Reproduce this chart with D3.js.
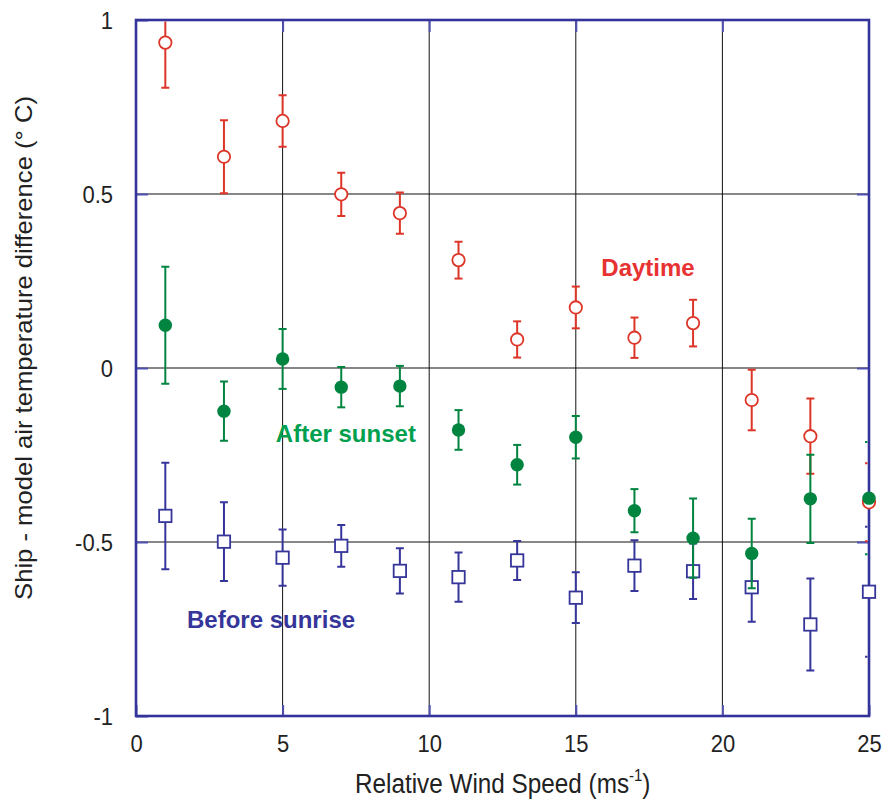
<!DOCTYPE html>
<html>
<head>
<meta charset="utf-8">
<script src="https://cdn.jsdelivr.net/npm/d3@7/dist/d3.min.js"></script>
<style>
  html, body { margin: 0; padding: 0; background: #fff; }
  svg { display: block; font-family: "Liberation Sans", Arial, Helvetica, sans-serif; }
</style>
</head>
<body>
<svg id="chart" width="884" height="806"></svg>
<script>
// Relative wind speed bins (m/s)
const windSpeed = [1, 3, 5, 7, 9, 11, 13, 15, 17, 19, 21, 23, 25];

// Ship minus model air temperature difference (deg C) and error bars
const daytime        = [0.935, 0.607, 0.710, 0.499, 0.445, 0.310, 0.082, 0.174, 0.087, 0.129, -0.092, -0.196, -0.386];
const daytimeErr     = [0.130, 0.105, 0.074, 0.062, 0.059, 0.053, 0.052, 0.060, 0.058, 0.067, 0.087, 0.108, 0.112];
const afterSunset    = [0.123, -0.124, 0.026, -0.055, -0.052, -0.178, -0.278, -0.199, -0.410, -0.489, -0.533, -0.376, -0.374];
const afterSunsetErr = [0.168, 0.085, 0.086, 0.058, 0.058, 0.057, 0.057, 0.061, 0.062, 0.114, 0.100, 0.127, 0.161];
const beforeSunrise    = [-0.425, -0.499, -0.545, -0.511, -0.583, -0.601, -0.553, -0.660, -0.568, -0.584, -0.630, -0.737, -0.643];
const beforeSunriseErr = [0.153, 0.113, 0.081, 0.060, 0.065, 0.071, 0.056, 0.073, 0.073, 0.080, 0.099, 0.132, 0.187];

// Axis ticks
const xTicks = [0, 5, 10, 15, 20, 25];
const yTicks = [1, 0.5, 0, -0.5, -1];
const yTickLabels = ["1", "0.5", "0", "-0.5", "-1"];

// Series labels, placed in data coordinates
const seriesNames = ["Before sunrise", "Daytime", "After sunset"];
const labelX = [1.74, 15.87, 4.77];
const labelY = [-0.747, 0.264, -0.212];

const svg = d3.select("#chart");
const plotL = 136, plotR = 869, plotT = 20, plotB = 716;

const x = d3.scaleLinear().domain([0, 25]).range([plotL, plotR]);
const y = d3.scaleLinear().domain([-1, 1]).range([plotB, plotT]);

const frameColor = "#333399";
const tickColor = "#5050b0";

// Grid lines
svg.append("g").selectAll("line").data(xTicks.slice(1, -1)).join("line")
  .attr("x1", d => x(d)).attr("x2", d => x(d))
  .attr("y1", plotT).attr("y2", plotB)
  .attr("stroke", "#111").attr("stroke-width", 1);
svg.append("g").selectAll("line").data(yTicks.slice(1, -1)).join("line")
  .attr("y1", d => y(d)).attr("y2", d => y(d))
  .attr("x1", plotL).attr("x2", plotR)
  .attr("stroke", "#111").attr("stroke-width", 1.2);

// Axes with inward ticks
function styleAxis(g) {
  g.select(".domain").remove();
  g.selectAll(".tick line").attr("stroke", tickColor).attr("stroke-width", 2);
}
const gx = svg.append("g").attr("transform", `translate(0,${plotB})`)
  .call(d3.axisBottom(x).tickValues(xTicks).tickSizeInner(-11).tickSizeOuter(0).tickPadding(0))
  .call(styleAxis);
gx.selectAll(".tick text")
  .attr("y", null).attr("dy", null)
  .attr("transform", "translate(0,36) scale(1,1.1)")
  .attr("font-size", 22).attr("fill", "#222").attr("font-family", null);

svg.append("g").attr("transform", `translate(0,${plotT})`)
  .call(d3.axisTop(x).tickValues(xTicks.slice(1, -1)).tickSizeInner(-12).tickSizeOuter(0).tickFormat(""))
  .call(styleAxis);

const gy = svg.append("g").attr("transform", `translate(${plotL},0)`)
  .call(d3.axisLeft(y).tickValues(yTicks).tickSizeInner(-12).tickSizeOuter(0)
    .tickFormat((d, i) => yTickLabels[i]))
  .call(styleAxis);
gy.selectAll(".tick text")
  .attr("x", null).attr("dy", null)
  .attr("transform", "translate(-23,8) scale(1,1.1)")
  .attr("font-size", 22).attr("fill", "#222").attr("font-family", null);

svg.append("g").attr("transform", `translate(${plotR},0)`)
  .call(d3.axisRight(y).tickValues(yTicks.slice(1, -1)).tickSizeInner(-12).tickSizeOuter(0).tickFormat(""))
  .call(styleAxis);

// Plot frame
svg.append("rect")
  .attr("x", plotL).attr("y", plotT)
  .attr("width", plotR - plotL).attr("height", plotB - plotT)
  .attr("fill", "none").attr("stroke", frameColor).attr("stroke-width", 2.6);

// Error bars are clipped to the plot interior
svg.append("clipPath").attr("id", "plotClip")
  .append("rect").attr("x", plotL + 1.5).attr("y", plotT + 1.5)
  .attr("width", plotR - plotL - 3).attr("height", plotB - plotT - 3);

const series = [
  { name: "Before sunrise", values: beforeSunrise, err: beforeSunriseErr, color: "#35359a", marker: "square" },
  { name: "Daytime",        values: daytime,       err: daytimeErr,       color: "#dd3527", marker: "circleOpen" },
  { name: "After sunset",   values: afterSunset,   err: afterSunsetErr,   color: "#00843f", marker: "circleFilled" }
];

const capHalf = 4;
series.forEach(s => {
  const pts = windSpeed.map((w, i) => ({ w, v: s.values[i], e: s.err[i] }));
  const g = svg.append("g");
  const bars = g.append("g").attr("clip-path", "url(#plotClip)")
    .attr("stroke", s.color).attr("stroke-width", 2).attr("fill", "none");
  bars.selectAll("line.stem").data(pts).join("line").attr("class", "stem")
    .attr("x1", d => x(d.w)).attr("x2", d => x(d.w))
    .attr("y1", d => y(d.v + d.e)).attr("y2", d => y(d.v - d.e));
  bars.selectAll("line.capTop").data(pts).join("line").attr("class", "capTop")
    .attr("x1", d => x(d.w) - capHalf).attr("x2", d => x(d.w) + capHalf)
    .attr("y1", d => y(d.v + d.e)).attr("y2", d => y(d.v + d.e));
  bars.selectAll("line.capBot").data(pts).join("line").attr("class", "capBot")
    .attr("x1", d => x(d.w) - capHalf).attr("x2", d => x(d.w) + capHalf)
    .attr("y1", d => y(d.v - d.e)).attr("y2", d => y(d.v - d.e));

  if (s.marker === "square") {
    g.selectAll("rect.mk").data(pts).join("rect").attr("class", "mk")
      .attr("x", d => x(d.w) - 6.2).attr("y", d => y(d.v) - 6.2)
      .attr("width", 12.4).attr("height", 12.4)
      .attr("fill", "#fff").attr("stroke", s.color).attr("stroke-width", 1.8);
  } else if (s.marker === "circleOpen") {
    g.selectAll("circle.mk").data(pts).join("circle").attr("class", "mk")
      .attr("cx", d => x(d.w)).attr("cy", d => y(d.v)).attr("r", 6.2)
      .attr("fill", "#fff").attr("stroke", s.color).attr("stroke-width", 1.8);
  } else {
    g.selectAll("circle.mk").data(pts).join("circle").attr("class", "mk")
      .attr("cx", d => x(d.w)).attr("cy", d => y(d.v)).attr("r", 6.7)
      .attr("fill", s.color);
  }
});

// Series labels
const labelColors = { "Before sunrise": "#35359a", "Daytime": "#e83232", "After sunset": "#00a04f" };
seriesNames.forEach((n, i) => {
  svg.append("text")
    .attr("x", x(labelX[i])).attr("y", y(labelY[i]))
    .attr("font-size", 24).attr("font-weight", "bold")
    .attr("fill", labelColors[n])
    .text(n);
});

// Axis titles
const xt = svg.append("text")
  .attr("transform", "translate(355,793) scale(1,1.1)")
  .attr("font-size", 24.3).attr("fill", "#222");
xt.append("tspan").text("Relative Wind Speed (ms");
xt.append("tspan").attr("font-size", 15).attr("dy", -11).text("-1");
xt.append("tspan").attr("dy", 11).text(")");

svg.append("text")
  .attr("transform", "translate(32,348) rotate(-90) scale(1.1,1)")
  .attr("text-anchor", "middle")
  .attr("font-size", 23.3).attr("fill", "#222")
  .text("Ship - model air temperature difference (\u00b0 C)");
</script>
</body>
</html>
